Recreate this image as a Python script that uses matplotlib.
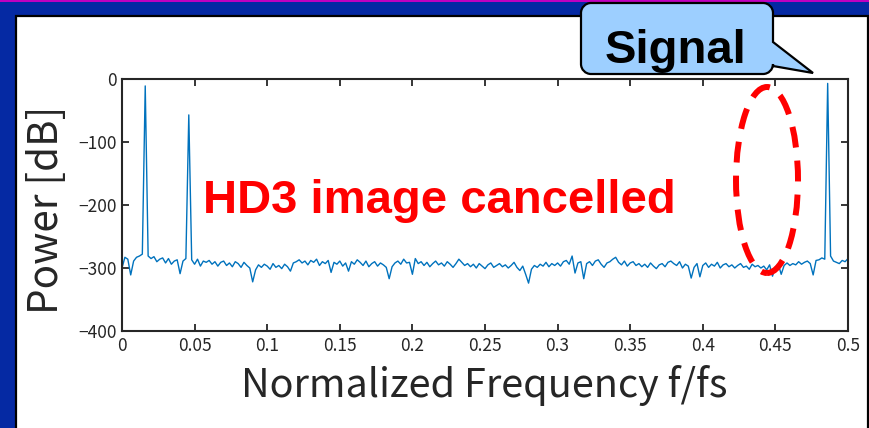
import numpy as np
import matplotlib.pyplot as plt
from matplotlib.patches import Rectangle, Ellipse, PathPatch
from matplotlib.path import Path

# spectrum, one value per 0.002 of f/fs (0 .. 0.5)
power_db = [
    -300, -283, -286, -311, -289, -283, -281, -278, -11, -281,
    -285, -282, -290, -286, -284, -292, -285, -294, -289, -287,
    -309, -289, -285, -57, -287, -294, -286, -297, -289, -291,
    -288, -294, -290, -297, -291, -289, -296, -292, -298, -290,
    -293, -299, -291, -296, -300, -322, -303, -295, -299, -294,
    -297, -302, -293, -299, -296, -301, -294, -298, -305, -292,
    -290, -287, -292, -289, -295, -288, -291, -286, -296, -290,
    -293, -288, -307, -291, -294, -289, -297, -292, -305, -290,
    -294, -287, -291, -296, -289, -298, -293, -290, -297, -292,
    -295, -299, -317, -298, -292, -289, -294, -286, -292, -291,
    -310, -285, -293, -290, -296, -291, -298, -293, -289, -295,
    -292, -297, -290, -294, -299, -293, -286, -291, -296, -293,
    -298, -294, -300, -293, -297, -301, -295, -292, -299, -296,
    -293, -298, -295, -300, -296, -291, -299, -304, -297, -310,
    -324, -302, -296, -299, -294, -297, -291, -298, -293, -296,
    -292, -297, -290, -288, -294, -281, -308, -292, -290, -317,
    -293, -290, -296, -289, -287, -294, -299, -292, -290, -286,
    -283, -291, -295, -289, -297, -292, -290, -296, -293, -298,
    -294, -299, -292, -297, -301, -295, -293, -298, -291, -289,
    -293, -296, -290, -300, -294, -297, -316, -299, -293, -314,
    -296, -292, -299, -294, -297, -291, -300, -295, -293, -298,
    -295, -300, -296, -293, -299, -297, -302, -294, -298, -296,
    -300, -297, -303, -295, -313, -298, -294, -310, -296, -292,
    -296, -293, -295, -290, -294, -291, -289, -293, -311, -288,
    -287, -284, -286, -7, -281, -289, -291, -293, -288, -290,
    -285,
]
freq = np.linspace(0, 0.5, len(power_db))

xticks = [0, 0.05, 0.1, 0.15, 0.2, 0.25, 0.3, 0.35, 0.4, 0.45, 0.5]
xticklabels = ['0', '0.05', '0.1', '0.15', '0.2', '0.25', '0.3', '0.35', '0.4', '0.45', '0.5']
yticks = [-400, -300, -200, -100, 0]
yticklabels = ['\u2212400', '\u2212300', '\u2212200', '\u2212100', '0']

W, H = 870, 428
SANS = ['Noto Sans CJK JP', 'DejaVu Sans']
TXT = '#262626'


def fx(x):
    return x / W


def fy(y):
    return 1 - y / H


fig = plt.figure(figsize=(8.7, 4.28), dpi=100, facecolor='#0529a3')

# slide background
fig.add_artist(Rectangle((0, fy(2)), 1, 2 / H, transform=fig.transFigure,
                         facecolor='#c000c0', edgecolor='none', zorder=-5))
fig.add_artist(Rectangle((fx(16), fy(440)), (868 - 16) / W, (440 - 16) / H,
                         transform=fig.transFigure, facecolor='white',
                         edgecolor='black', lw=1.6, zorder=-4))

ax = fig.add_axes([fx(122), fy(331), (848 - 122) / W, (331 - 79) / H])
ax.plot(freq, power_db, color='#0072bd', lw=1.0)
ax.set_xlim(0, 0.5)
ax.set_ylim(-400, 0)
ax.set_xticks(xticks)
ax.set_xticklabels(xticklabels, family=SANS, fontsize=12.5, color=TXT)
ax.set_yticks(yticks)
ax.set_yticklabels(yticklabels, family=SANS, fontsize=12.5, color=TXT)
ax.tick_params(direction='in', length=5, width=1.3, top=True, right=True,
               colors='#262626', pad=4)
for s in ax.spines.values():
    s.set_linewidth(1.5)
    s.set_color('#262626')

fig.text(fx(484), fy(397), 'Normalized Frequency f/fs', family=SANS,
         fontsize=28.5, color=TXT, ha='center', va='baseline')
fig.text(fx(47), fy(210), 'Power [dB]', family=SANS, fontsize=29,
         color=TXT, rotation=90, ha='center', va='center')

fig.text(fx(203), fy(213), 'HD3 image cancelled', family='Liberation Sans',
         fontweight='bold', fontsize=34, color='#ff0000', ha='left',
         va='baseline', zorder=6)

# dashed ellipse round the cancelled image
fig.add_artist(Ellipse((fx(767), fy(180)), 62 / W, 186 / H,
                       transform=fig.transFigure, fill=False,
                       edgecolor='#ff0000', lw=4.3, ls=(0, (3.5, 2.2)),
                       zorder=6))

# "Signal" callout: rounded box with a tail, built in pixel coords
L, R, T, B, r = 581, 773, 3, 74, 10
k = 0.5523 * r
pts = [(L + r, T), (R - r, T),
       (R - r + k, T), (R, T + r - k), (R, T + r),
       (R, 42), (813, 73), (R, 66), (R, B - r),
       (R, B - r + k), (R - r + k, B), (R - r, B),
       (L + r, B),
       (L + r - k, B), (L, B - r + k), (L, B - r),
       (L, T + r),
       (L, T + r - k), (L + r - k, T), (L + r, T),
       (L + r, T)]
codes = [Path.MOVETO, Path.LINETO,
         Path.CURVE4, Path.CURVE4, Path.CURVE4,
         Path.LINETO, Path.LINETO, Path.LINETO, Path.LINETO,
         Path.CURVE4, Path.CURVE4, Path.CURVE4,
         Path.LINETO,
         Path.CURVE4, Path.CURVE4, Path.CURVE4,
         Path.LINETO,
         Path.CURVE4, Path.CURVE4, Path.CURVE4,
         Path.CLOSEPOLY]
callout = Path([(fx(a), fy(b)) for a, b in pts], codes)
fig.add_artist(PathPatch(callout, transform=fig.transFigure,
                         facecolor='#9dcfff', edgecolor='black', lw=1.6,
                         zorder=7))
fig.text(fx(605), fy(63), 'Signal', family='Liberation Sans',
         fontweight='bold', fontsize=34, color='black', ha='left',
         va='baseline', zorder=8)

fig.savefig('out.png', dpi=100, facecolor=fig.get_facecolor())
